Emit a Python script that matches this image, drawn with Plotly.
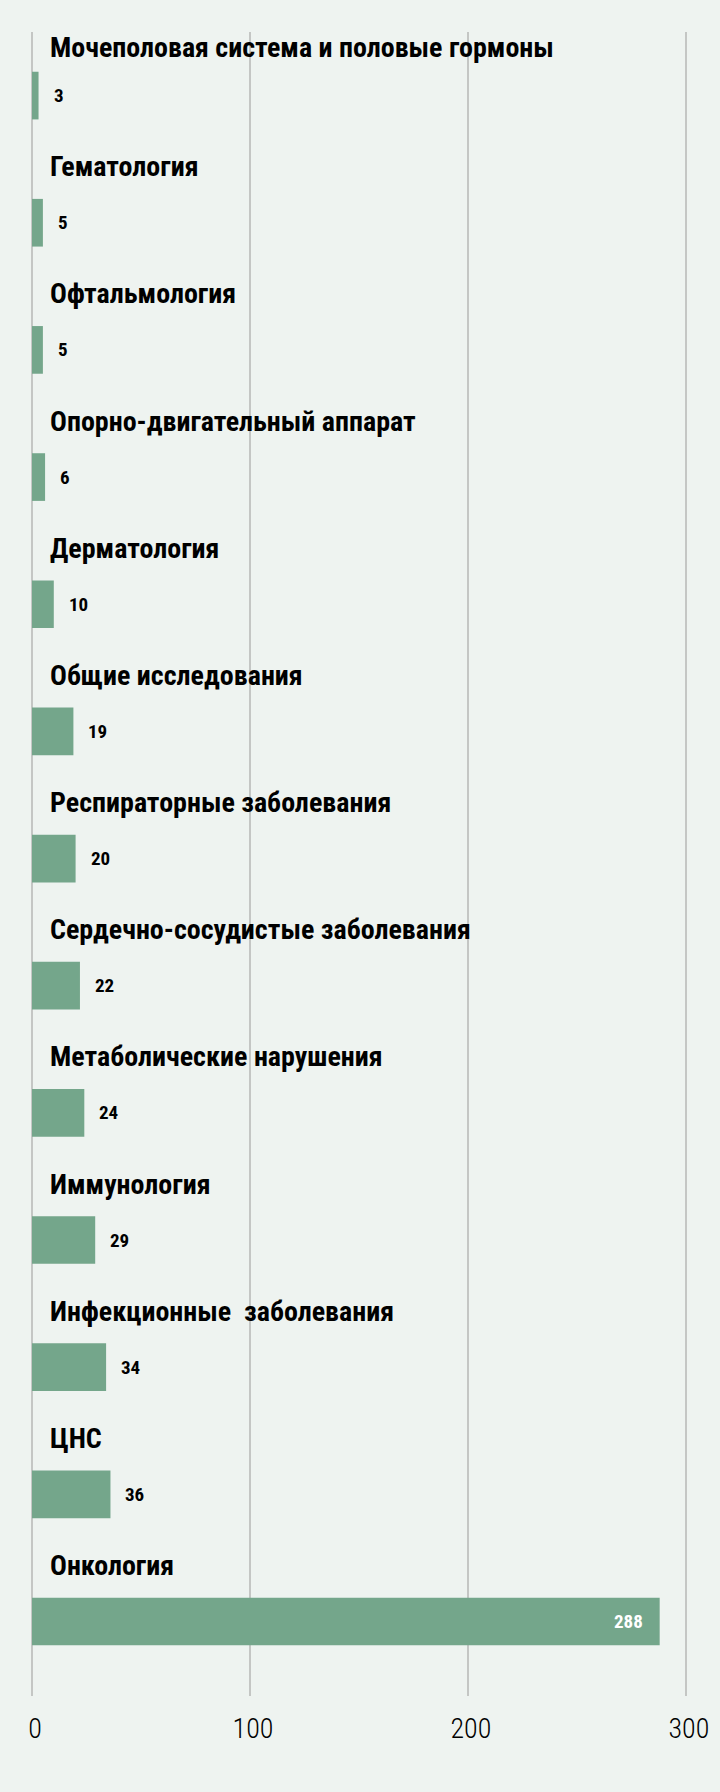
import plotly.graph_objects as go

categories = [
    'Мочеполовая система и половые гормоны',
    'Гематология',
    'Офтальмология',
    'Опорно-двигательный аппарат',
    'Дерматология',
    'Общие исследования',
    'Респираторные заболевания',
    'Сердечно-сосудистые заболевания',
    'Метаболические нарушения',
    'Иммунология',
    'Инфекционные\u00a0 заболевания',
    'ЦНС',
    'Онкология',
]
counts = [3, 5, 5, 6, 10, 19, 20, 22, 24, 29, 34, 36, 288]
x_ticks = [0, 100, 200, 300]

BG = '#eef3f0'
BAR = '#74a68b'
GRID = '#c4c6c4'
BOLD = 'Roboto Condensed, Liberation Sans Narrow, DejaVu Sans Condensed, Roboto'
LIGHT = 'Roboto Condensed Light, Roboto Condensed, Liberation Sans Narrow, DejaVu Sans Condensed, Roboto'


def bars():
    return go.Bar(
        x=counts,
        y=categories,
        orientation='h',
        marker_color=BAR,
        marker_line_width=0,
        hoverinfo='skip',
    )


def label_annotations():
    notes = []
    for i, (cat, val) in enumerate(zip(categories, counts)):
        # category title sits above its bar (first one is squeezed by the top edge)
        notes.append(dict(
            x=0, y=cat, xref='x', yref='y',
            text='<b>%s</b>' % cat,
            showarrow=False, xanchor='left', yanchor='middle',
            xshift=16, yshift=48 if i == 0 else 56,
            font=dict(family=BOLD, size=28, color='#000000'),
        ))
        inside = val > 200
        notes.append(dict(
            x=val, y=cat, xref='x', yref='y',
            text='<b>%d</b>' % val,
            showarrow=False,
            xanchor='right' if inside else 'left',
            yanchor='middle',
            xshift=-15 if inside else 13,
            font=dict(family=BOLD, size=19,
                      color='#ffffff' if inside else '#000000'),
        ))
    return notes


fig = go.Figure(bars())
fig.update_layout(
    width=720,
    height=1792,
    margin=dict(l=32, r=32, t=32, b=96),
    paper_bgcolor=BG,
    plot_bgcolor=BG,
    bargap=0.625,
    showlegend=False,
    annotations=label_annotations(),
)
fig.update_xaxes(
    range=[0, 301],
    automargin=False,
    tickvals=x_ticks,
    ticktext=[str(t) for t in x_ticks],
    showgrid=True,
    gridcolor=GRID,
    gridwidth=2,
    zeroline=True,
    zerolinecolor=GRID,
    zerolinewidth=2,
    showline=False,
    ticks='outside',
    ticklen=7,
    tickcolor='rgba(0,0,0,0)',
    ticklabelshift=3,
    tickfont=dict(family=LIGHT, size=28, color='#000000'),
    fixedrange=True,
)
fig.update_yaxes(
    autorange='reversed',
    automargin=False,
    showticklabels=False,
    showgrid=False,
    zeroline=False,
    fixedrange=True,
)
# page body has a default margin; drop it so the figure sits at 0,0
fig.write_html(
    "out.html",
    config={'displayModeBar': False},
    post_script="document.body.style.margin='0';document.body.style.overflow='hidden';",
)
